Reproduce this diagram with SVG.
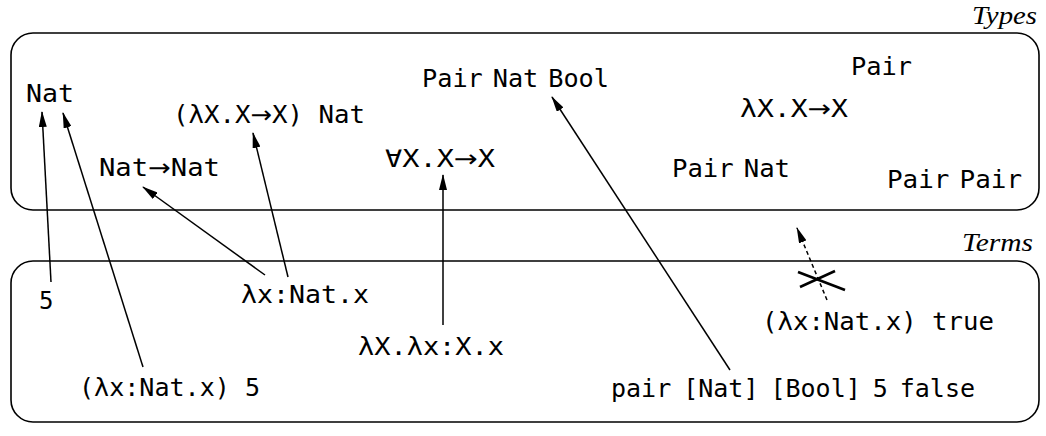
<svg xmlns="http://www.w3.org/2000/svg" width="1046" height="436" viewBox="0 0 1046 436">
<defs>
<marker id="ah" markerWidth="16" markerHeight="8" refX="15" refY="4" orient="auto" markerUnits="userSpaceOnUse">
<path d="M0,0 L16,4 L0,8 Z" fill="#000"/>
</marker>
<style>
.t{font-family:"DejaVu Sans Mono","Liberation Mono",monospace;font-size:24px;fill:#000}
.ar{font-family:"DejaVu Sans",sans-serif}
.lab{font-family:"Liberation Serif",serif;font-style:italic;font-size:26px;fill:#000}
.box{fill:none;stroke:#000;stroke-width:1.6}
.c{fill:none;stroke:#000;stroke-width:1.5}
.d{fill:none;stroke:#000;stroke-width:1.5;stroke-dasharray:4,3}
.x{fill:none;stroke:#000;stroke-width:2.6}
</style>
</defs>
<rect width="1046" height="436" fill="#fff"/>
<g id="types">
<rect class="box" x="11" y="33" width="1028" height="177" rx="22" ry="22"/>
<text class="lab" x="972" y="24" textLength="65" lengthAdjust="spacingAndGlyphs">Types</text>
</g>
<g id="terms">
<rect class="box" x="11" y="261" width="1028" height="161" rx="22" ry="22"/>
<text class="lab" x="962" y="251" textLength="71" lengthAdjust="spacingAndGlyphs">Terms</text>
</g>
<g id="n-nat"><text class="t" x="26" y="102" textLength="48" lengthAdjust="spacingAndGlyphs">Nat</text></g>
<g id="n-lamapp"><text class="t" x="173" y="123" textLength="192" lengthAdjust="spacingAndGlyphs">(λX.X<tspan class="ar">→</tspan>X) Nat</text></g>
<g id="n-natnat"><text class="t" x="99" y="176" textLength="121" lengthAdjust="spacingAndGlyphs">Nat<tspan class="ar">→</tspan>Nat</text></g>
<g id="n-pairnatbool"><text class="t" x="422" y="87" word-spacing="-5" textLength="187" lengthAdjust="spacingAndGlyphs">Pair Nat Bool</text></g>
<g id="n-forall"><text class="t" x="385" y="167" textLength="110" lengthAdjust="spacingAndGlyphs">∀X.X<tspan class="ar">→</tspan>X</text></g>
<g id="n-pair"><text class="t" x="851" y="75" textLength="61" lengthAdjust="spacingAndGlyphs">Pair</text></g>
<g id="n-lamX"><text class="t" x="740" y="117" textLength="108" lengthAdjust="spacingAndGlyphs">λX.X<tspan class="ar">→</tspan>X</text></g>
<g id="n-pairnat"><text class="t" x="672" y="177" word-spacing="-5" textLength="118" lengthAdjust="spacingAndGlyphs">Pair Nat</text></g>
<g id="n-pairpair"><text class="t" x="887" y="188" word-spacing="-5" textLength="135" lengthAdjust="spacingAndGlyphs">Pair Pair</text></g>
<g id="n-5"><text class="t" x="39" y="309">5</text></g>
<g id="n-lamx"><text class="t" x="241" y="303" textLength="128" lengthAdjust="spacingAndGlyphs">λx:Nat.x</text></g>
<g id="n-tlam"><text class="t" x="358" y="355" textLength="146" lengthAdjust="spacingAndGlyphs">λX.λx:X.x</text></g>
<g id="n-app5"><text class="t" x="79" y="396" textLength="181" lengthAdjust="spacingAndGlyphs">(λx:Nat.x) 5</text></g>
<g id="n-pairterm"><text class="t" x="611" y="397" word-spacing="-3" textLength="364" lengthAdjust="spacingAndGlyphs">pair [Nat] [Bool] 5 false</text></g>
<g id="n-apptrue"><text class="t" x="762" y="330" textLength="232" lengthAdjust="spacingAndGlyphs">(λx:Nat.x) true</text></g>
<g id="connectors">
<line class="c" x1="51" y1="282" x2="42" y2="112" marker-end="url(#ah)"/>
<line class="c" x1="143" y1="367" x2="63" y2="113" marker-end="url(#ah)"/>
<line class="c" x1="265" y1="275" x2="143" y2="187" marker-end="url(#ah)"/>
<line class="c" x1="288" y1="277" x2="253" y2="133" marker-end="url(#ah)"/>
<line class="c" x1="443" y1="325" x2="443" y2="175" marker-end="url(#ah)"/>
<line class="c" x1="730" y1="370" x2="552" y2="97" marker-end="url(#ah)"/>
<line class="d" x1="827" y1="300" x2="797" y2="228" marker-end="url(#ah)"/>
<line class="x" x1="798" y1="272" x2="845" y2="290"/>
<line class="x" x1="800" y1="287" x2="835" y2="271"/>
</g>
</svg>
